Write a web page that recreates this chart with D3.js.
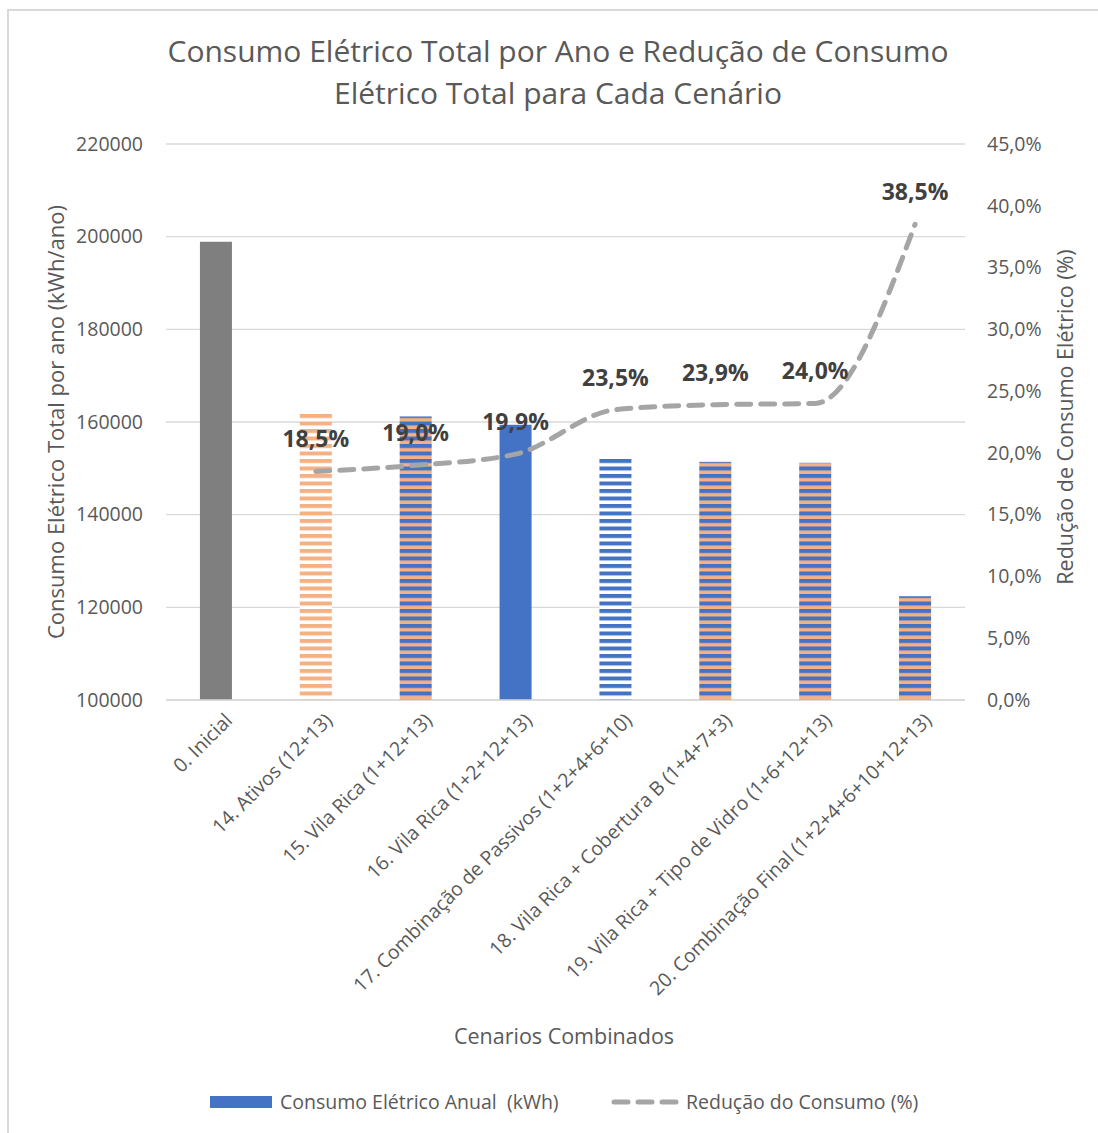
<!DOCTYPE html>
<html>
<head>
<meta charset="utf-8">
<script src="https://cdn.jsdelivr.net/npm/d3@7"></script>
<style>
  body { margin: 0; background: #fff; }
  svg { display: block; font-family: "Open Sans", sans-serif; }
</style>
</head>
<body>
<svg id="chart"></svg>
<script>
// data
var cenarios = ["0. Inicial", "14. Ativos (12+13)", "15. Vila Rica (1+12+13)", "16. Vila Rica (1+2+12+13)",
  "17. Combinação de Passivos (1+2+4+6+10)", "18. Vila Rica + Cobertura B (1+4+7+3)",
  "19. Vila Rica + Tipo de Vidro (1+6+12+13)", "20. Combinação Final (1+2+4+6+10+12+13)"];
var consumo = [198900, 162400, 161200, 159400, 152200, 151400, 151200, 122400];
var reducao = [null, 0.185, 0.190, 0.199, 0.235, 0.239, 0.240, 0.385];
var reducaoLabels = [null, "18,5%", "19,0%", "19,9%", "23,5%", "23,9%", "24,0%", "38,5%"];
var fills = ["gray", "orangeStripe", "mixStripe", "blue", "blueStripe", "mixStripe", "mixStripe", "mixStripe"];
var leftTicks = [100000, 120000, 140000, 160000, 180000, 200000, 220000];
var rightTicks = [0, 0.05, 0.10, 0.15, 0.20, 0.25, 0.30, 0.35, 0.40, 0.45];

var screen = {width: 1098, height: 1133};
var margins = {top: 144, right: 133, bottom: 433, left: 166};
var blue = "#4472c4", orange = "#f4b183", gray = "#7f7f7f", lineGray = "#a5a5a5", txt = "#595959";

var svg = d3.select("#chart").attr("width", screen.width).attr("height", screen.height);

// frame of the chart area
svg.append("rect").attr("x", 8).attr("y", 10).attr("width", 1200).attr("height", 1200)
  .style("fill", "white").style("stroke", "#d9d9d9").style("stroke-width", 2);

// stripe patterns
var defs = svg.append("defs");
var stripe = function(id, bg, fg) {
  var p = defs.append("pattern").attr("id", id).attr("patternUnits", "userSpaceOnUse")
    .attr("width", 10).attr("height", 7.5);
  p.append("rect").attr("width", 10).attr("height", 7.5).style("fill", bg);
  p.append("rect").attr("y", 0).attr("width", 10).attr("height", 4).style("fill", fg);
};
stripe("orangeStripe", "white", orange);
stripe("blueStripe", "white", blue);
stripe("mixStripe", orange, blue);
var fillOf = {gray: gray, blue: blue, orangeStripe: "url(#orangeStripe)", blueStripe: "url(#blueStripe)", mixStripe: "url(#mixStripe)"};

var plotW = screen.width - margins.left - margins.right;
var plotH = screen.height - margins.top - margins.bottom;
var plot = svg.append("g").attr("transform", "translate(" + margins.left + "," + margins.top + ")");

var x = d3.scaleBand().domain(cenarios).range([0, plotW]);
var yL = d3.scaleLinear().domain([100000, 220000]).range([plotH, 0]);
var yR = d3.scaleLinear().domain([0, 0.45]).range([plotH, 0]);

// grid
plot.selectAll(".grid").data(leftTicks).enter().append("line")
  .attr("x1", 0).attr("x2", plotW)
  .attr("y1", function(d){ return yL(d); }).attr("y2", function(d){ return yL(d); })
  .style("stroke", "#d9d9d9").style("stroke-width", 1.3);

// left axis
var axL = plot.append("g").attr("transform", "translate(-20,0)")
  .call(d3.axisLeft(yL).tickValues(leftTicks).tickSize(0).tickFormat(d3.format("d")));
axL.select(".domain").remove();
axL.selectAll("text").style("font-size", "19.5px").style("fill", txt).style("font-family", "Open Sans");

// right axis
var axR = plot.append("g").attr("transform", "translate(" + (plotW + 19) + ",0)")
  .call(d3.axisRight(yR).tickValues(rightTicks).tickSize(0).tickFormat(function(d){ return d3.format(".1f")(d * 100).replace(".", ",") + "%"; }));
axR.select(".domain").remove();
axR.selectAll("text").style("font-size", "19.5px").style("fill", txt).style("font-family", "Open Sans");

// bars
var barW = 32;
plot.selectAll(".bar").data(cenarios).enter().append("rect")
  .attr("x", function(d){ return x(d) + x.bandwidth() / 2 - barW / 2; })
  .attr("y", function(d, i){ return yL(consumo[i]); })
  .attr("width", barW)
  .attr("height", function(d, i){ return plotH - yL(consumo[i]); })
  .style("fill", function(d, i){ return fillOf[fills[i]]; });

// x axis line
plot.append("line").attr("x1", 0).attr("x2", plotW).attr("y1", plotH).attr("y2", plotH)
  .style("stroke", "#d9d9d9").style("stroke-width", 1.5);

// x labels
plot.selectAll(".xlab").data(cenarios).enter().append("text")
  .attr("transform", function(d){ return "translate(" + (x(d) + x.bandwidth() / 2 + 8) + "," + (plotH + 12) + ") rotate(-45)"; })
  .attr("text-anchor", "end").attr("dy", "0.7em")
  .style("font-size", "19.5px").style("fill", txt)
  .text(function(d){ return d; });

// reduction line
var pts = cenarios.map(function(d, i){ return {c: d, v: reducao[i], l: reducaoLabels[i]}; }).filter(function(d){ return d.v != null; });
var line = d3.line().x(function(d){ return x(d.c) + x.bandwidth() / 2; }).y(function(d){ return yR(d.v); })
  .curve(d3.curveMonotoneX);
plot.append("path").datum(pts).attr("d", line)
  .style("fill", "none").style("stroke", lineGray).style("stroke-width", 5)
  .style("stroke-dasharray", "14,10").style("stroke-linecap", "round");

plot.selectAll(".vlab").data(pts).enter().append("text")
  .attr("x", function(d){ return x(d.c) + x.bandwidth() / 2; })
  .attr("y", function(d){ return yR(d.v) - 24; })
  .attr("text-anchor", "middle")
  .style("font-size", "23px").style("font-weight", "bold").style("fill", "#404040")
  .text(function(d){ return d.l; });

// titles
var title = ["Consumo Elétrico Total por Ano e Redução de Consumo", "Elétrico Total para Cada Cenário"];
svg.selectAll(".title").data(title).enter().append("text")
  .attr("x", 558).attr("y", function(d, i){ return 62 + i * 42; })
  .attr("text-anchor", "middle").style("font-size", "30px").style("fill", txt)
  .text(function(d){ return d; });

svg.append("text").attr("transform", "translate(64," + (margins.top + plotH / 2) + ") rotate(-90)")
  .attr("text-anchor", "middle").style("font-size", "22px").style("fill", txt)
  .text("Consumo Elétrico Total por ano (kWh/ano)");
svg.append("text").attr("transform", "translate(1073," + (margins.top + plotH / 2 - 5) + ") rotate(-90)")
  .attr("text-anchor", "middle").style("font-size", "21.5px").style("fill", txt)
  .text("Redução de Consumo Elétrico (%)");
svg.append("text").attr("x", 564).attr("y", 1044).attr("text-anchor", "middle")
  .style("font-size", "21.5px").style("fill", txt).text("Cenarios Combinados");

// legend
svg.append("rect").attr("x", 210).attr("y", 1096).attr("width", 62).attr("height", 12).style("fill", blue);
svg.append("text").attr("x", 280).attr("y", 1109).style("font-size", "19.5px").style("fill", txt)
  .style("white-space", "pre").text("Consumo Elétrico Anual  (kWh)");
svg.append("line").attr("x1", 614).attr("x2", 678).attr("y1", 1102).attr("y2", 1102)
  .style("stroke", lineGray).style("stroke-width", 5).style("stroke-dasharray", "14,10").style("stroke-linecap", "round");
svg.append("text").attr("x", 686).attr("y", 1109).style("font-size", "19.5px").style("fill", txt).text("Redução do Consumo (%)");
</script>
</body>
</html>
